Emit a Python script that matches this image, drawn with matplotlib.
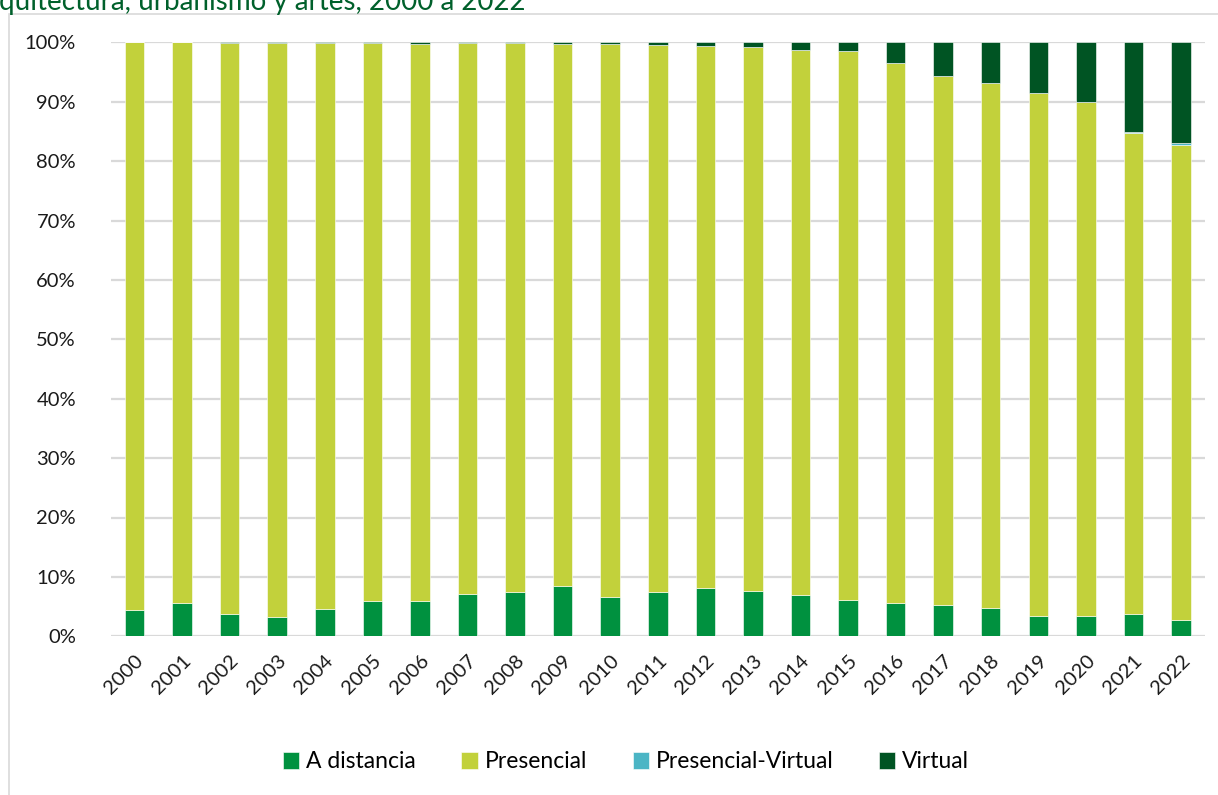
import matplotlib
matplotlib.use("Agg")
import matplotlib.pyplot as plt
import numpy as np
from matplotlib.patches import Rectangle

plt.rcParams['font.family'] = ['Lato', 'DejaVu Sans']

years = [str(y) for y in range(2000, 2023)]
a_distancia = [4.4, 5.6, 3.7, 3.2, 4.6, 5.9, 5.9, 7.1, 7.4, 8.4, 6.7, 7.4, 8.1,
               7.6, 6.9, 6.1, 5.6, 5.2, 4.7, 3.5, 3.5, 3.7, 2.7]
presencial_virtual = [0.0, 0.0, 0.05, 0.0, 0.0, 0.0, 0.0, 0.0, 0.0, 0.0, 0.0, 0.0, 0.0,
                      0.0, 0.0, 0.0, 0.0, 0.0, 0.0, 0.05, 0.05, 0.1, 0.3]
virtual = [0.02, 0.03, 0.05, 0.1, 0.15, 0.15, 0.25, 0.15, 0.2, 0.35, 0.3, 0.45, 0.55,
           0.85, 1.3, 1.5, 3.5, 5.7, 6.8, 8.5, 10.0, 15.1, 17.0]
presencial = [100 - a - pv - v for a, pv, v in zip(a_distancia, presencial_virtual, virtual)]

series = [
    ("A distancia", a_distancia, "#00913F"),
    ("Presencial", presencial, "#C2D13B"),
    ("Presencial-Virtual", presencial_virtual, "#4BB5C5"),
    ("Virtual", virtual, "#005423"),
]

title_text = "quitectura, urbanismo y artes, 2000 a 2022"
y_ticks = [0, 10, 20, 30, 40, 50, 60, 70, 80, 90, 100]

fig = plt.figure(figsize=(12.18, 7.95), dpi=100)
fig.patch.set_facecolor("white")

# outer frame of chart area
frame = Rectangle((9 / 1218, -0.01), 1.2, 1 - 14 / 795 + 0.01, transform=fig.transFigure,
                  fill=False, edgecolor="#D9D9D9", linewidth=1.2)
fig.add_artist(frame)

fig.text(-0.001, 1 - 2 / 795, title_text, color="#00602B", fontsize=20,
         ha="left", va="center")

ax = fig.add_axes([110.7 / 1218, 1 - 636.3 / 795, (1204.8 - 110.7) / 1218, (636.3 - 42.3) / 795])
x = np.arange(len(years))
bottom = np.zeros(len(years))
handles = []
for name, vals, col in series:
    vals = np.array(vals)
    b = ax.bar(x, vals, 0.41, bottom=bottom, color=col, edgecolor="#FFFFFF",
               linewidth=0.4, label=name, zorder=3)
    handles.append(b)
    bottom += vals

ax.set_xlim(-0.5, len(years) - 0.5)
ax.set_ylim(0, 100)
ax.set_yticks(y_ticks)
ax.set_yticklabels([f"{t}%" for t in y_ticks], fontsize=14.5, color="#1A1A1A")
ax.yaxis.grid(True, color="#D9D9D9", linewidth=1.6, zorder=0)
ax.set_axisbelow(True)
ax.set_xticks(x)
ax.set_xticklabels(years, rotation=45, ha="right", rotation_mode="anchor",
                   fontsize=14.5, color="#1A1A1A")
ax.tick_params(axis="both", length=0)
ax.tick_params(axis="y", pad=25)
ax.tick_params(axis="x", pad=11)
for s in ax.spines.values():
    s.set_visible(False)

leg = fig.legend(handles=handles, labels=[s[0] for s in series], loc="center",
                 bbox_to_anchor=(626 / 1218, 1 - 762 / 795), ncol=4, frameon=False,
                 fontsize=16.5, handlelength=0.7, handleheight=0.7,
                 handletextpad=0.3, columnspacing=2.0)

fig.savefig("out.png", dpi=100, facecolor="white")
